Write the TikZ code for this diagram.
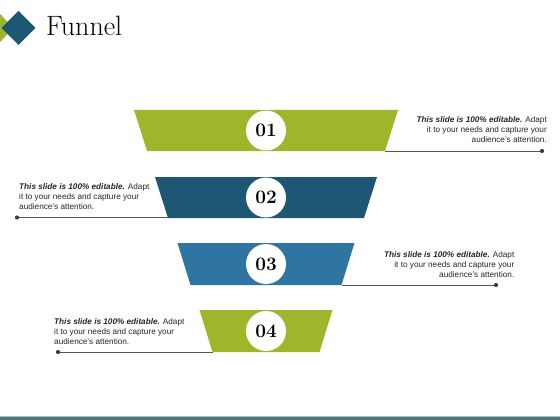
\documentclass[tikz,border=0pt]{standalone}
\usepackage{fontspec}
\newfontfamily\arialfont{Liberation Sans}
\definecolor{fgreen}{HTML}{9DB62B}
\definecolor{fdblue}{HTML}{1E5774}
\definecolor{fmblue}{HTML}{2E75A1}
\definecolor{fline}{HTML}{555555}
\definecolor{fbottom}{HTML}{4F7479}
\tikzset{
  numcirc/.style={circle,fill=white,minimum size=40pt,inner sep=0pt,font=\fontsize{19}{22}\selectfont\bfseries},
  desc/.style={font=\arialfont\fontsize{8.2}{10.2}\selectfont,inner sep=0pt,text=black!85},
  dotnode/.style={circle,fill=fline!70!black,minimum size=4.2pt,inner sep=0pt},
  leader/.style={draw=fline,line width=0.8pt}
}
\newcommand{\hd}{\textbf{\textit{This slide is 100\% editable.}}}
\newcommand{\funnelbar}[5]{% ytop, ybot, halftop, color, name
  \fill[#4] ({266-#3},#1) coordinate (#5tl) -- ({266+#3},#1) coordinate (#5tr)
    -- ({266+#3-13},#2) coordinate (#5br) -- ({266-#3+13},#2) coordinate (#5bl) -- cycle;}
\begin{document}
\begin{tikzpicture}[x=1pt,y=-1pt]
\useasboundingbox (0,0) rectangle (560,420);
% logo
\fill[fgreen] (-8,5) -- (13,28) -- (-8,51) -- (-29,28) -- cycle;
\fill[fdblue] (18.5,11) -- (35.5,28) -- (18.5,45) -- (1.5,28) -- cycle;
\node[anchor=west,inner sep=0pt,font=\fontsize{28}{30}\selectfont] (title) at (46,26) {Funnel};
% bars
\funnelbar{110}{151}{132}{fgreen}{a}
\funnelbar{177}{218}{111}{fdblue}{b}
\funnelbar{243}{285}{88.5}{fmblue}{c}
\funnelbar{310}{352}{66.5}{fgreen}{d}
\node[numcirc] (n1) at (266,130.5) {\oldstylenums{01}};
\node[numcirc] (n2) at (266,197.5) {\oldstylenums{02}};
\node[numcirc] (n3) at (266,264) {\oldstylenums{03}};
\node[numcirc] (n4) at (266,331) {\oldstylenums{04}};
% dots and leaders
\node[dotnode] (p1) at (542,151) {};
\node[dotnode] (p2) at (17,217.5) {};
\node[dotnode] (p3) at (496,285) {};
\node[dotnode] (p4) at (58,352) {};
\draw[leader] (abr) -- (p1);
\draw[leader] (p2) -- (bbl |- p2);
\draw[leader] (cbr) -- (p3);
\draw[leader] (p4) -- (dbl);
% texts
\node[desc,align=right,anchor=north east] (t1) at (547,116) {\hd{} Adapt\\it to your needs and capture your\\audience’s attention.};
\node[desc,align=left,anchor=north west] (t2) at (19,183) {\hd{} Adapt\\it to your needs and capture your\\audience’s attention.};
\node[desc,align=right,anchor=north east] (t3) at (514.5,251) {\hd{} Adapt\\it to your needs and capture your\\audience’s attention.};
\node[desc,align=left,anchor=north west] (t4) at (54,318) {\hd{} Adapt\\it to your needs and capture your\\audience’s attention.};
% bottom band
\fill[fbottom!45] (0,415.5) rectangle (560,417);
\fill[fbottom] (0,417) rectangle (560,420);
\end{tikzpicture}
\end{document}
